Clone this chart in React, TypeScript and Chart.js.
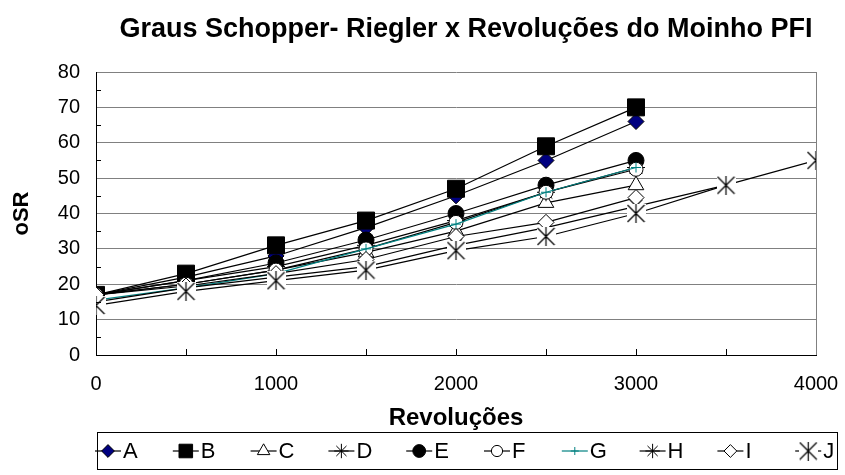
import React, { useEffect, useRef } from 'react';
import { Chart, registerables } from 'chart.js';
import { drawPoint } from 'chart.js/helpers';

Chart.register(...registerables);

// ---------- data ----------
const revolutions = [0, 500, 1000, 1500, 2000, 2500, 3000, 3500, 4000];
const seriesLabels = ['A', 'B', 'C', 'D', 'E', 'F', 'G', 'H', 'I', 'J'];
const serieA = [17, 22, 28, 36, 45, 55, 66];
const serieB = [17, 23, 31, 38, 47, 59, 70];
const serieC = [17, 20, 24, 29, 35, 43, 48];
const serieD = [17, 21, 25, 31, 38, 46, 53];
const serieE = [17, 21, 26, 32.5, 40, 48, 55];
const serieF = [17, 20, 24, 30, 37.5, 46, 52.5];
const serieG = [15.5, 19, 23, 30, 37, 46, 53];
const serieH = [15, 19, 22, 25, 31, 36, 42, 48];
const serieI = [17, 19.5, 23, 27, 33.5, 37.5, 44.5];
const serieJ = [14, 18, 21, 24, 29.5, 33.5, 40, 48, 55];
const allSeries = [serieA, serieB, serieC, serieD, serieE, serieF, serieG, serieH, serieI, serieJ];

const yTickValues = [0, 10, 20, 30, 40, 50, 60, 70, 80];
const yMinorTickValues = [5, 15, 25, 35, 45, 55, 65, 75];
const xLabelValues = [0, 1000, 2000, 3000, 4000];
const xTickMarkValues = [500, 1000, 1500, 2000, 2500, 3000, 3500];

const chartTitle = 'Graus Schopper- Riegler x Revoluções do Moinho PFI';
const xTitle = 'Revoluções';
const yTitle = 'oSR';

const FONT = '"Liberation Sans", Arial, sans-serif';

function makeStarMarker(size: number) {
  const c = document.createElement('canvas');
  c.width = size;
  c.height = size;
  const g = c.getContext('2d')!;
  g.fillStyle = '#ffffff';
  g.fillRect(0, 0, size, size);
  g.strokeStyle = '#000000';
  g.lineWidth = 1.2;
  g.beginPath();
  g.moveTo(1, 1); g.lineTo(size - 1, size - 1);
  g.moveTo(size - 1, 1); g.lineTo(1, size - 1);
  g.moveTo(size / 2, 0); g.lineTo(size / 2, size);
  g.stroke();
  return c;
}

export default function App() {
  const ref = useRef<HTMLCanvasElement | null>(null);

  useEffect(() => {
    if (!ref.current) return;
    const starBox = makeStarMarker(19);

    const styles: any[] = [
      { pointStyle: 'rectRot', radius: 8, bg: '#000080', border: '#000000', bw: 1, line: '#000000' },
      { pointStyle: 'rect', radius: 12, bg: '#000000', border: '#000000', bw: 1, line: '#000000' },
      { pointStyle: 'triangle', radius: 9, bg: '#ffffff', border: '#000000', bw: 1, line: '#000000' },
      { pointStyle: 'star', radius: 9, bg: '#000000', border: '#000000', bw: 1, line: '#000000' },
      { pointStyle: 'circle', radius: 8, bg: '#000000', border: '#000000', bw: 1, line: '#000000' },
      { pointStyle: 'circle', radius: 7, bg: '#ffffff', border: '#000000', bw: 1, line: '#000000' },
      { pointStyle: 'cross', radius: 5, bg: '#008080', border: '#008080', bw: 1, line: '#008080' },
      { pointStyle: 'star', radius: 9, bg: '#000000', border: '#000000', bw: 1, line: '#000000' },
      { pointStyle: 'rectRot', radius: 8, bg: '#ffffff', border: '#000000', bw: 1, line: '#000000' },
      { pointStyle: starBox, radius: 9, bg: '#ffffff', border: '#000000', bw: 1, line: '#000000' },
    ];

    const datasets = allSeries.map((vals, i) => ({
      label: seriesLabels[i],
      data: vals.map((v, k) => ({ x: revolutions[k], y: v })),
      borderColor: styles[i].line,
      borderWidth: 1.2,
      backgroundColor: styles[i].bg,
      pointStyle: styles[i].pointStyle,
      pointRadius: styles[i].radius,
      pointBackgroundColor: styles[i].bg,
      pointBorderColor: styles[i].border,
      pointBorderWidth: styles[i].bw,
      tension: 0,
      fill: false,
      order: allSeries.length - i,
    }));

    const decorPlugin = {
      id: 'decor',
      afterDraw(chart: any) {
        const { ctx, chartArea, scales } = chart;
        ctx.save();
        // right border of plot
        ctx.strokeStyle = '#808080';
        ctx.lineWidth = 1;
        ctx.beginPath();
        ctx.moveTo(Math.round(chartArea.right) + 0.5, chartArea.top);
        ctx.lineTo(Math.round(chartArea.right) + 0.5, chartArea.bottom);
        ctx.stroke();
        // inside tick marks
        ctx.strokeStyle = '#000000';
        ctx.beginPath();
        xTickMarkValues.forEach((v) => {
          const px = Math.round(scales.x.getPixelForValue(v)) + 0.5;
          ctx.moveTo(px, chartArea.bottom);
          ctx.lineTo(px, chartArea.bottom - 6);
        });
        yMinorTickValues.forEach((v) => {
          const py = Math.round(scales.y.getPixelForValue(v)) + 0.5;
          ctx.moveTo(chartArea.left, py);
          ctx.lineTo(chartArea.left + 5, py);
        });
        ctx.stroke();

        // titles
        ctx.fillStyle = '#000000';
        ctx.textAlign = 'center';
        ctx.textBaseline = 'middle';
        ctx.font = `bold 27px ${FONT}`;
        ctx.fillText(chartTitle, 466, 30);
        ctx.font = `bold 24px ${FONT}`;
        ctx.fillText(xTitle, (chartArea.left + chartArea.right) / 2, 418);
        ctx.save();
        ctx.translate(22, (chartArea.top + chartArea.bottom) / 2);
        ctx.rotate(-Math.PI / 2);
        ctx.font = `bold 22px ${FONT}`;
        ctx.fillText(yTitle, 0, 0);
        ctx.restore();

        // legend
        const L = { left: 97, top: 432, right: 837, bottom: 469, first: 108, pitch: 77.8 };
        ctx.strokeStyle = '#000000';
        ctx.lineWidth = 1;
        ctx.strokeRect(L.left + 0.5, L.top + 0.5, L.right - L.left, L.bottom - L.top);
        const cy = (L.top + L.bottom) / 2 + 0.5;
        chart.data.datasets.forEach((ds: any, i: number) => {
          const mx = L.first + L.pitch * i;
          ctx.strokeStyle = ds.borderColor;
          ctx.lineWidth = 1.2;
          ctx.beginPath();
          ctx.moveTo(mx - 13, cy);
          ctx.lineTo(mx + 13, cy);
          ctx.stroke();
          ctx.fillStyle = ds.pointBackgroundColor;
          ctx.strokeStyle = ds.pointBorderColor;
          ctx.lineWidth = ds.pointBorderWidth;
          drawPoint(ctx, { pointStyle: ds.pointStyle, radius: ds.pointRadius * 0.8, rotation: 0, borderWidth: ds.pointBorderWidth }, mx, cy);
          ctx.fillStyle = '#000000';
          ctx.font = `22px ${FONT}`;
          ctx.textAlign = 'left';
          ctx.textBaseline = 'middle';
          ctx.fillText(ds.label, mx + 15, cy + 1);
        });
        ctx.restore();
      },
    };

    const chart = new Chart(ref.current, {
      type: 'line',
      data: { datasets },
      options: {
        animation: false,
        responsive: false,
        devicePixelRatio: 1,
        layout: { padding: { top: 72, right: 29, bottom: 0, left: 0 } },
        plugins: { legend: { display: false }, title: { display: false }, tooltip: { enabled: false } },
        scales: {
          x: {
            type: 'linear',
            min: 0,
            max: 4000,
            afterFit: (s: any) => { s.height = 120; s.paddingLeft = 0; s.paddingRight = 0; },
            afterBuildTicks: (s: any) => { s.ticks = xLabelValues.map((v) => ({ value: v })); },
            ticks: {
              font: { family: FONT, size: 20 }, color: '#000000', padding: 17, maxRotation: 0, autoSkip: false,
              callback: (v: any) => String(v),
            },
            grid: { display: false, drawTicks: false },
            border: { display: true, color: '#000000', width: 1 },
          },
          y: {
            type: 'linear',
            min: 0,
            max: 80,
            afterFit: (s: any) => { s.width = 96; s.paddingTop = 0; s.paddingBottom = 0; },
            afterBuildTicks: (s: any) => { s.ticks = yTickValues.map((v) => ({ value: v })); },
            ticks: { font: { family: FONT, size: 20 }, color: '#000000', padding: 16 },
            grid: { color: '#808080', drawTicks: false, lineWidth: 1 },
            border: { display: true, color: '#000000', width: 1 },
          },
        },
      },
      plugins: [decorPlugin],
    });
    return () => chart.destroy();
  }, []);

  return (
    <div style={{ position: 'absolute', left: 0, top: 0, width: 845, height: 475, background: '#ffffff' }}>
      <canvas ref={ref} width={845} height={475} style={{ width: 845, height: 475 }} />
    </div>
  );
}
